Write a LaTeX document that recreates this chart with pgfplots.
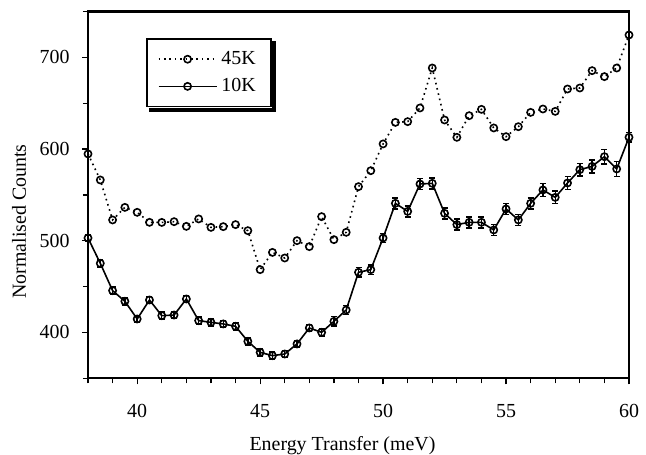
\documentclass[border=0pt]{standalone}
\usepackage{pgfplots}
\pgfplotsset{compat=1.18}
\usepackage{fontspec}
\setmainfont{Liberation Serif}

\begin{document}
\fontsize{10}{12}\selectfont
\begin{tikzpicture}
\begin{axis}[
  name=ax,
  at={(0,0)}, anchor=south west,
  scale only axis, width=270.5bp, height=183.4bp,
  xmin=38, xmax=60, ymin=350, ymax=750,
  xtick={40,45,50,55,60}, ytick={400,500,600,700},
  minor xtick={38,39,...,60}, minor ytick={350,450,550,650,750},
  tick align=outside, xtick pos=left, ytick pos=left,
  major tick length=3bp, minor tick length=2.5bp,
  axis line style={line width=1bp},
  every tick/.style={line width=0.6bp, black},
  /pgf/number format/assume math mode=true,
  tick label style={font=\fontsize{10}{12}\selectfont},
  xticklabel style={yshift=-6.6bp},
  yticklabel style={xshift=-2.7bp},
  xlabel={Energy Transfer (meV)},
  ylabel={Normalised Counts},
  label style={font=\fontsize{10}{12}\selectfont},
  xlabel style={at={(axis description cs:0.4704,-0.1840)}, anchor=center},
  ylabel style={at={(axis description cs:-0.1275,0.4275)}, anchor=center},
  clip=false,
  legend style={at={(axis description cs:0.107,0.927)}, anchor=north west,
    draw=black, line width=0.9bp, fill=white, name=leg,
    font=\fontsize{10}{12}\selectfont, inner xsep=5.5bp, inner ysep=4bp,
    row sep=1.5bp},
  legend cell align=left,
  legend image code/.code={\draw[mark repeat=2, mark phase=2] plot coordinates {(0bp,0bp) (14.5bp,0bp) (29bp,0bp)};},
]
\addplot[black, line width=0.8bp, dash pattern=on 0.8bp off 1.9bp,
  mark=o, mark size=1.8bp, mark options={solid, fill=white, line width=0.8bp}]
  table {
x y
38 594.7
38.5 566.3
39 522.7
39.5 536.4
40 531.0
40.5 520.1
41 520.0
41.5 520.8
42 515.7
42.5 523.8
43 514.6
43.5 515.4
44 517.6
44.5 511.0
45 468.5
45.5 487.3
46 481.2
46.5 500.1
47 493.6
47.5 526.3
48 501.2
48.5 509.2
49 559.0
49.5 576.4
50 605.6
50.5 629.1
51 629.9
51.5 644.8
52 688.4
52.5 631.7
53 612.8
53.5 636.4
54 643.3
54.5 623.0
55 613.5
55.5 624.4
56 640.0
56.5 643.7
57 641.1
57.5 665.5
58 666.6
58.5 685.5
59 679.0
59.5 688.4
60 724.4
};
\addlegendentry{45K}
\addplot[black, line width=0.8bp,
  mark=o, mark size=1.8bp, mark options={solid, fill=white, line width=0.8bp},
  error bars/.cd, y dir=both, y explicit,
  error bar style={line width=0.7bp},
  error mark options={rotate=90, mark size=1.5bp, line width=0.7bp}]
  table[y error=e] {
x y e
38 503.0 4
38.5 475.4 4
39 445.6 4
39.5 434.0 4
40 414.7 4
40.5 435.4 4
41 418.3 4
41.5 419.0 4
42 436.5 4
42.5 412.9 4
43 411.0 4
43.5 409.3 4
44 406.7 4
44.5 390.3 4
45 378.3 4
45.5 374.7 4
46 376.5 4
46.5 387.5 4
47 404.9 4
47.5 400.1 4
48 412.1 5
48.5 424.5 5
49 465.6 5
49.5 468.5 5
50 503.0 5
50.5 540.8 6
51 532.0 6
51.5 561.9 6
52 562.6 6
52.5 529.9 6
53 517.6 6
53.5 520.1 6
54 520.1 6
54.5 511.8 6
55 534.7 6
55.5 522.7 6
56 540.8 6
56.5 555.4 7
57 547.3 7
57.5 563.0 7
58 577.5 7
58.5 581.1 7
59 591.7 8
59.5 578.3 8
60 612.8 5
};
\addlegendentry{10K}
\end{axis}
\fill[black] ([xshift=-0.5bp,yshift=-0.55bp]ax.north west) rectangle ([xshift=0.55bp,yshift=0.55bp]ax.north east);
\fill[black] ([xshift=-0.55bp,yshift=0.55bp]ax.north east) rectangle ([xshift=0.55bp,yshift=-0.5bp]ax.south east);
\fill[black] ([xshift=1.6bp,yshift=-0.45bp]leg.south west) rectangle ([xshift=2bp,yshift=-2.2bp]leg.south east);
\fill[black] ([xshift=0.45bp,yshift=-1.6bp]leg.north east) rectangle ([xshift=2bp,yshift=-2.2bp]leg.south east);
\pgfresetboundingbox
\path[use as bounding box] (-44bp,-38.35bp) rectangle (279bp,189.15bp);
\end{tikzpicture}
\end{document}
